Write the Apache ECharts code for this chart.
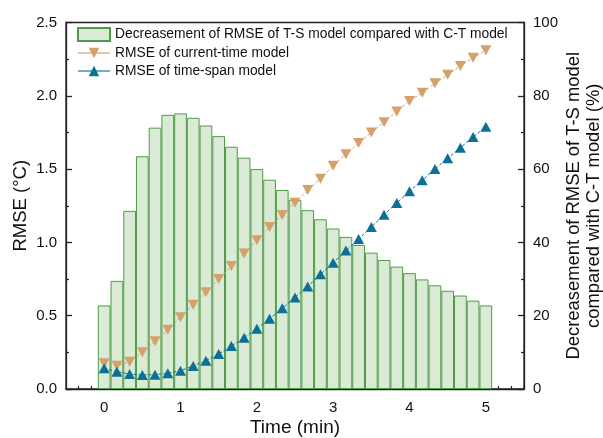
<!DOCTYPE html>
<html>
<head>
<meta charset="utf-8">
<script src="https://cdn.jsdelivr.net/npm/echarts@6/dist/echarts.min.js"></script>
<style>html,body{margin:0;padding:0;background:#fff}#c{width:603px;height:438px}</style>
</head>
<body>
<div id="c"></div>
<script>
// time in seconds (converted to minutes)
const timeSec = [0,10,20,30,40,50,60,70,80,90,100,110,120,130,140,150,160,170,180,190,200,210,220,230,240,250,260,270,280,290,300];
// Decreasement of RMSE (%) – right axis
const decrease = [22.8,29.5,48.6,63.5,71.3,74.8,75.2,74.0,71.9,69.0,66.1,63.1,60.0,57.1,54.3,51.6,48.8,46.3,43.8,41.5,39.3,37.2,35.2,33.4,31.6,29.9,28.3,26.8,25.5,24.1,22.8];
// RMSE of current-time model (°C)
const rmseCT = [0.175,0.159,0.186,0.25,0.325,0.405,0.489,0.575,0.66,0.75,0.839,0.925,1.015,1.105,1.187,1.271,1.357,1.435,1.523,1.601,1.678,1.75,1.82,1.893,1.965,2.02,2.085,2.143,2.204,2.259,2.311];
// RMSE of time-span model (°C)
const rmseTS = [0.141,0.118,0.102,0.095,0.098,0.107,0.125,0.157,0.193,0.239,0.293,0.35,0.411,0.48,0.55,0.625,0.7,0.782,0.862,0.944,1.023,1.105,1.189,1.269,1.349,1.424,1.501,1.574,1.646,1.719,1.789];
const xTicks = [0,1,2,3,4,5];
const xMinorTicks = [-2,-1,1,2,3,4,5,7,8,9,10,11,13,14,15,16,17,19,20,21,22,23,25,26,27,28,29,31,32,33,34,35].map(k=>k/6);
const seriesNames = ['Decreasement of RMSE of T-S model compared with C-T model','RMSE of current-time model','RMSE of time-span model'];

const tMin = timeSec.map(s=>s/60);
const FONT = "'Liberation Sans', Arial, sans-serif";
const gridL = 66, gridR = 79, gridT = 22.5, gridB = 49;
const W = 603, H = 438;
const plotW = W - gridL - gridR;
const xMin = -0.5, xMax = 5.5;
const barW = plotW / (xMax - xMin) * (tMin[1] - tMin[0]);

const chart = echarts.init(document.getElementById('c'), null, {renderer:'canvas'});
const axisLineStyle = {color:'#222', width:1.3};
chart.setOption({
  animation:false,
  backgroundColor:'#fff',
  textStyle:{fontFamily:FONT},
  grid:{left:gridL, right:gridR, top:gridT, bottom:gridB, containLabel:false, outerBoundsMode:'none', show:true, borderColor:'#222', borderWidth:1.3, backgroundColor:'transparent'},
  legend:{
    orient:'vertical', left:77, top:27, padding:0, itemWidth:32, itemHeight:13, itemGap:4,
    textStyle:{fontFamily:FONT, fontSize:13.8, color:'#111'},
    data:[
      {name:seriesNames[0], icon:'rect'},
      {name:seriesNames[1], lineStyle:{type:'solid', color:'#e6c7a8'}},
      {name:seriesNames[2], lineStyle:{type:'solid', color:'#6fb0c8'}}
    ]
  },
  xAxis:[{
    type:'value', min:xMin, max:xMax,
    name:'Time (min)', nameLocation:'middle', nameGap:29, nameMoveOverlap:false,
    nameTextStyle:{fontFamily:FONT, fontSize:19, color:'#111'},
    axisLine:{show:true, onZero:false, lineStyle:axisLineStyle},
    axisTick:{show:true, inside:true, length:6, lineStyle:{color:'#222', width:1.3}, customValues:xTicks},
    axisLabel:{fontFamily:FONT, fontSize:15, color:'#111', margin:11, customValues:xTicks, formatter:v=>String(Math.round(v))},
    splitLine:{show:false}
  },{
    type:'value', min:xMin, max:xMax, position:'bottom',
    axisLine:{show:false, onZero:false},
    axisTick:{show:true, inside:true, length:3, lineStyle:{color:'#222', width:1.2}, customValues:xMinorTicks},
    axisLabel:{show:false, customValues:xMinorTicks},
    splitLine:{show:false}
  }],
  yAxis:[{
    type:'value', min:0, max:2.5, interval:0.5, position:'left',
    name:'RMSE (°C)', nameLocation:'middle', nameGap:36, nameMoveOverlap:false,
    nameTextStyle:{fontFamily:FONT, fontSize:18.5, color:'#111'},
    axisLine:{show:true, onZero:false, lineStyle:axisLineStyle},
    axisTick:{show:true, inside:true, length:6, lineStyle:{color:'#222', width:1.3}},
    minorTick:{show:true, splitNumber:2, length:3, lineStyle:{color:'#222', width:1.2}},
    axisLabel:{fontFamily:FONT, fontSize:15, color:'#111', margin:9, formatter:v=>v.toFixed(1)},
    splitLine:{show:false}
  },{
    type:'value', min:0, max:100, interval:20, position:'right',
    name:'Decreasement of RMSE of T-S model\ncompared with C-T model (%)', nameLocation:'middle', nameGap:40, nameRotate:90, nameMoveOverlap:false,
    nameTextStyle:{fontFamily:FONT, fontSize:18.4, color:'#111', lineHeight:20},
    axisLine:{show:true, onZero:false, lineStyle:axisLineStyle},
    axisTick:{show:true, inside:true, length:6, lineStyle:{color:'#222', width:1.3}},
    minorTick:{show:true, splitNumber:2, length:3, lineStyle:{color:'#222', width:1.2}},
    axisLabel:{fontFamily:FONT, fontSize:15, color:'#111', margin:9},
    splitLine:{show:false}
  }],
  series:[{
    name:seriesNames[0], type:'bar', xAxisIndex:0, yAxisIndex:1,
    barWidth:barW, barGap:'-100%',
    itemStyle:{color:'#d9ead5', borderColor:'#4f9b48', borderWidth:1},
    data:tMin.map((t,i)=>[t, decrease[i]]), z:1
  },{
    name:seriesNames[1], type:'line', xAxisIndex:0, yAxisIndex:0,
    symbol:'triangle', symbolRotate:180, symbolSize:[11,10],
    lineStyle:{color:'#d4a06c', width:1, type:[3,2]},
    itemStyle:{color:'#d4a06c'},
    data:tMin.map((t,i)=>[t, rmseCT[i]]), z:3
  },{
    name:seriesNames[2], type:'line', xAxisIndex:0, yAxisIndex:0,
    symbol:'triangle', symbolSize:[11,10],
    lineStyle:{color:'#0c7096', width:1, type:[3,2]},
    itemStyle:{color:'#0c7096'},
    data:tMin.map((t,i)=>[t, rmseTS[i]]), z:4
  }]
});
</script>
</body>
</html>
